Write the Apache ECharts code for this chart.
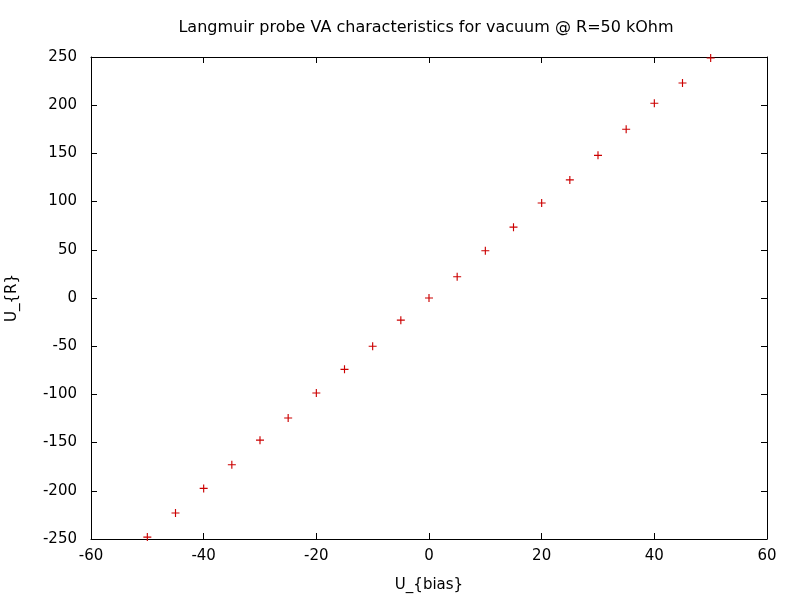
<!DOCTYPE html>
<html>
<head>
<meta charset="utf-8">
<script src="https://cdn.jsdelivr.net/npm/echarts@6/dist/echarts.min.js"></script>
<style>html,body{margin:0;padding:0;background:#fff;}#c{width:800px;height:600px;}</style>
</head>
<body>
<div id="c"></div>
<script>
var biasValues = [-50,-45,-40,-35,-30,-25,-20,-15,-10,-5,0,5,10,15,20,25,30,35,40,45,50];
var rValues = [-248,-223,-197.5,-173,-147.5,-124.5,-98.5,-74,-50,-23,0,22,49,73.5,98.5,122.5,148,175,202,223,249];
var titleText = 'Langmuir probe VA characteristics for vacuum @ R=50 kOhm';
var xName = 'U_{bias}';
var yName = 'U_{R}';

var points = biasValues.map(function(v, i){ return [v, rValues[i]]; });
var font = 'DejaVu Sans';
var chart = echarts.init(document.getElementById('c'), null, {renderer:'canvas'});
var axisLineStyle = {color:'#000', width:1};
chart.setOption({
  backgroundColor:'#fff',
  animation:false,
  title:{text:titleText, left:421, top:15, textAlign:'center',
    textStyle:{fontFamily:font, fontSize:16, fontWeight:'normal', color:'#000'}},
  grid:{left:91, right:33, top:57, bottom:61, containLabel:false, outerBoundsMode:'none'},
  xAxis:[{
    type:'value', min:-60, max:60, interval:20, position:'bottom',
    name:xName, nameLocation:'middle', nameGap:39,
    nameTextStyle:{fontFamily:font, fontSize:15, color:'#000'},
    axisLine:{show:true, onZero:false, lineStyle:axisLineStyle},
    axisTick:{show:true, inside:true, length:6, lineStyle:axisLineStyle},
    axisLabel:{fontFamily:font, fontSize:15, color:'#000', margin:10},
    splitLine:{show:false}
  },{
    type:'value', min:-60, max:60, interval:20, position:'top',
    axisLine:{show:true, onZero:false, lineStyle:axisLineStyle},
    axisTick:{show:true, inside:true, length:6, lineStyle:axisLineStyle},
    axisLabel:{show:false}, splitLine:{show:false}
  }],
  yAxis:[{
    type:'value', min:-250, max:250, interval:50, position:'left',
    name:yName, nameLocation:'middle', nameGap:71, nameRotate:90,
    nameTextStyle:{fontFamily:font, fontSize:15, color:'#000'},
    axisLine:{show:true, onZero:false, lineStyle:axisLineStyle},
    axisTick:{show:true, inside:true, length:6, lineStyle:axisLineStyle},
    axisLabel:{fontFamily:font, fontSize:15, color:'#000', margin:14},
    splitLine:{show:false}
  },{
    type:'value', min:-250, max:250, interval:50, position:'right',
    axisLine:{show:true, onZero:false, lineStyle:axisLineStyle},
    axisTick:{show:true, inside:true, length:6, lineStyle:axisLineStyle},
    axisLabel:{show:false}, splitLine:{show:false}
  }],
  series:[{
    type:'scatter',
    xAxisIndex:0, yAxisIndex:0,
    data:points,
    symbol:'path://M-1,-7H1V-1H7V1H1V7H-1V1H-7V-1H-1Z',
    symbolSize:8,
    itemStyle:{color:'#cc0000', opacity:1},
    clip:false
  }]
});
</script>
</body>
</html>
